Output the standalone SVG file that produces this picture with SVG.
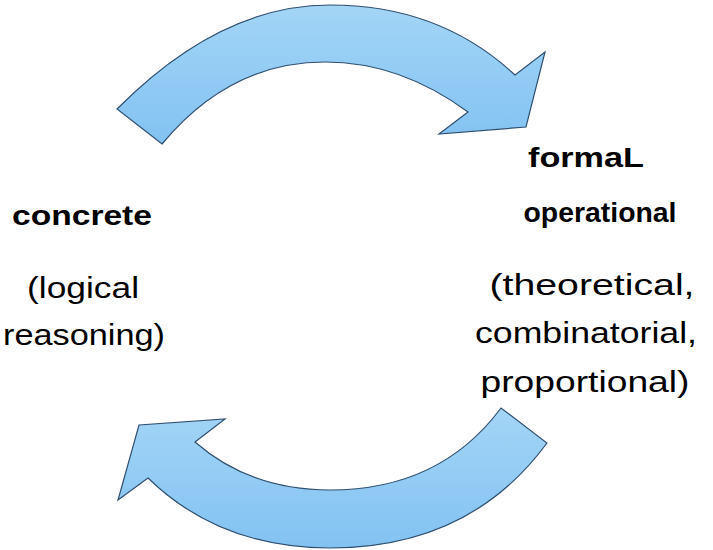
<svg xmlns="http://www.w3.org/2000/svg" width="713" height="550" viewBox="0 0 713 550">
<defs>
<linearGradient id="gt" x1="0" y1="0" x2="0" y2="1"><stop offset="0" stop-color="#a3d5f6"/><stop offset="1" stop-color="#82c2f2"/></linearGradient>
<style>
.arr{fill:url(#gt);stroke:#2f4f6f;stroke-width:1.2;stroke-linejoin:miter}
.t{font-family:"Liberation Sans",Arial,sans-serif;font-size:29px;fill:#000;text-anchor:middle}
.b{font-weight:bold;font-size:27px}
</style>
</defs>
<g id="connectors">
<path class="arr" d="M117,109 Q220,5 330,5 Q440,5 515,75 L545,52 L526,127 L439,134 L468,112 Q400,62 325,62 Q230,62 162,144 Z"/>
<path class="arr" d="M547,443 Q470,548 330,548 Q220,548 148,478 L118,500 L139,425 L225,419 L195,442 Q250,490 330,490 Q440,490 501,408 Z"/>
</g>
<g id="concrete">
<text class="t b" x="82" y="225" textLength="140" lengthAdjust="spacingAndGlyphs">concrete</text>
<text class="t" x="83" y="298" textLength="112" lengthAdjust="spacingAndGlyphs">(logical</text>
<text class="t" x="84" y="345" textLength="162" lengthAdjust="spacingAndGlyphs">reasoning)</text>
</g>
<g id="formal">
<text class="t b" x="586" y="167" textLength="116" lengthAdjust="spacingAndGlyphs">formaL</text>
<text class="t b" x="600" y="222" textLength="153" lengthAdjust="spacingAndGlyphs">operational</text>
<text class="t" x="592" y="295" textLength="205" lengthAdjust="spacingAndGlyphs">(theoretical,</text>
<text class="t" x="586" y="343" textLength="222" lengthAdjust="spacingAndGlyphs">combinatorial,</text>
<text class="t" x="585" y="392" textLength="209" lengthAdjust="spacingAndGlyphs">proportional)</text>
</g>
</svg>
